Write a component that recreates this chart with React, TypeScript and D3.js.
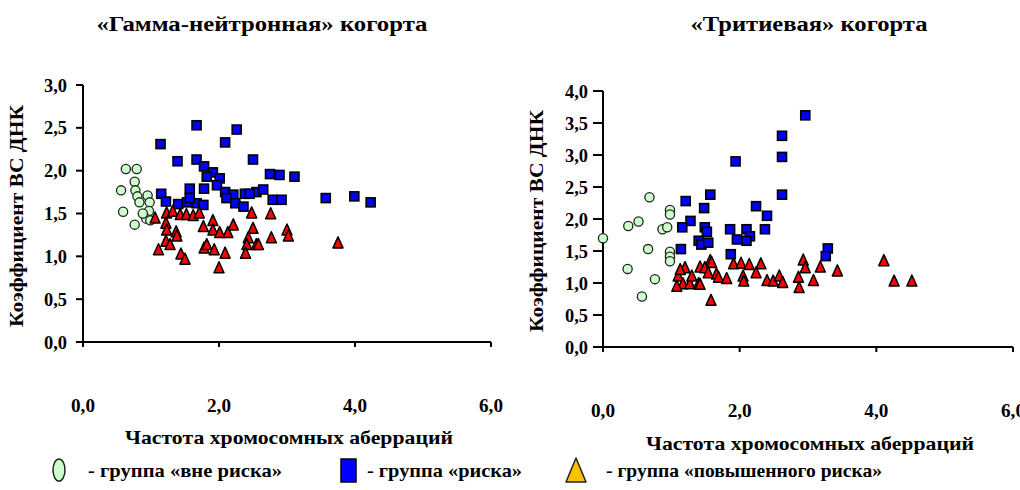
import React from "react";
import * as d3 from "d3";

// ---------- DATA ----------
const xTicks = [0, 2, 4, 6];
const leftYTicks = [0, 0.5, 1, 1.5, 2, 2.5, 3];
const rightYTicks = [0, 0.5, 1, 1.5, 2, 2.5, 3, 3.5, 4];

const leftTitle = "«Гамма-нейтронная» когорта";
const rightTitle = "«Тритиевая» когорта";
const xAxisTitle = "Частота хромосомных аберраций";
const yAxisTitle = "Коэффициент ВС ДНК";
const legendLabels = ["- группа «вне риска»", "- группа «риска»", "- группа «повышенного риска»"];

// Gamma-neutron cohort
const leftNoRisk: [number, number][] = [
  [0.63, 2.02], [0.79, 2.02], [0.56, 1.77], [0.76, 1.87], [0.77, 1.77], [0.80, 1.70],
  [0.95, 1.71], [0.83, 1.63], [0.98, 1.63], [0.97, 1.53], [0.59, 1.52], [0.93, 1.44],
  [0.99, 1.42], [0.76, 1.37], [0.88, 1.50],
];
const leftRisk: [number, number][] = [
  [1.14, 2.31], [1.39, 2.11], [1.67, 2.53], [1.67, 2.13], [2.09, 2.33], [2.26, 2.48],
  [2.50, 2.13], [1.78, 2.05], [1.91, 1.98], [1.82, 1.93], [2.01, 1.91], [1.97, 1.83],
  [1.78, 1.79], [1.57, 1.79], [1.15, 1.73], [2.09, 1.75], [2.21, 1.72], [2.38, 1.73],
  [2.55, 1.75], [1.22, 1.64], [1.40, 1.61], [1.53, 1.63], [1.67, 1.62], [1.77, 1.60],
  [1.57, 1.68], [2.11, 1.68], [2.24, 1.62], [2.36, 1.58], [2.75, 1.96], [2.89, 1.95],
  [3.11, 1.93], [2.65, 1.78], [2.45, 1.73], [2.79, 1.66], [2.92, 1.66], [3.57, 1.68],
  [3.99, 1.70], [4.23, 1.63],
];
const leftHighRisk: [number, number][] = [
  [1.06, 1.44], [1.23, 1.50], [1.32, 1.52], [1.43, 1.48], [1.52, 1.48], [1.62, 1.47],
  [1.71, 1.50], [1.22, 1.38], [1.23, 1.30], [1.37, 1.28], [1.38, 1.23], [1.91, 1.41],
  [1.77, 1.34], [1.91, 1.30], [2.01, 1.27], [2.13, 1.27], [2.21, 1.36], [2.48, 1.50],
  [2.50, 1.32], [2.43, 1.21], [2.41, 1.13], [2.55, 1.13], [2.39, 1.03], [1.22, 1.17],
  [1.28, 1.13], [1.11, 1.07], [1.44, 1.02], [1.50, 0.96], [1.78, 1.09], [1.82, 1.13],
  [1.93, 1.07], [2.09, 1.03], [2.00, 0.86], [2.76, 1.49], [3.00, 1.30], [3.02, 1.23],
  [2.77, 1.21], [2.58, 1.13], [3.75, 1.15],
];

// Tritium cohort
const rightNoRisk: [number, number][] = [
  [0.0, 1.70], [0.37, 1.89], [0.52, 1.96], [0.68, 2.34], [0.98, 2.14], [0.98, 2.07],
  [0.87, 1.84], [0.94, 1.87], [0.66, 1.53], [0.98, 1.49], [0.98, 1.41], [0.98, 1.34],
  [0.36, 1.22], [0.76, 1.06], [0.57, 0.79],
];
const rightRisk: [number, number][] = [
  [2.96, 3.62], [2.62, 3.30], [2.62, 2.97], [1.94, 2.90], [2.62, 2.38], [1.57, 2.38],
  [1.21, 2.28], [1.48, 2.17], [1.28, 1.97], [1.16, 1.87], [1.49, 1.87], [1.52, 1.80],
  [1.40, 1.66], [1.44, 1.60], [1.54, 1.63], [1.14, 1.53], [2.24, 2.20], [2.40, 2.05],
  [1.86, 1.84], [2.10, 1.84], [2.37, 1.84], [2.15, 1.73], [1.96, 1.68], [2.10, 1.66],
  [1.87, 1.45], [3.29, 1.54], [3.26, 1.42],
];
const rightHighRisk: [number, number][] = [
  [1.20, 1.23], [1.42, 1.24], [1.57, 1.34], [1.66, 1.13], [1.10, 1.10], [1.17, 0.98],
  [1.27, 0.98], [1.40, 0.98], [1.08, 0.94], [1.49, 1.23], [1.59, 1.31], [1.91, 1.29],
  [2.02, 1.30], [2.14, 1.28], [2.31, 1.29], [1.54, 1.15], [1.69, 1.08], [1.81, 1.06],
  [2.05, 1.10], [2.24, 1.15], [2.06, 1.02], [2.40, 1.03], [2.49, 1.02], [2.58, 1.10],
  [2.63, 1.00], [2.93, 1.35], [2.96, 1.23], [2.86, 1.08], [2.87, 0.92], [3.08, 1.03],
  [3.18, 1.24], [3.43, 1.18], [1.58, 0.72], [1.42, 0.97], [1.13, 1.20], [1.30, 1.10],
  [4.11, 1.34], [4.26, 1.02], [4.52, 1.02],
];

// ---------- STYLE ----------
const FONT = "'Liberation Serif', 'Times New Roman', serif";
const GREEN = "#ccffcc";
const BLUE = "#0000ff";
const RED = "#ff0000";
const ORANGE = "#ffc000";

const triPath = (w: number, h: number) => `M0,${-h * 0.6}L${w / 2},${h * 0.4}L${-w / 2},${h * 0.4}Z`;

type PanelProps = {
  x0: number; x1: number; y0: number; y1: number; yMax: number; yTicks: number[];
  tickLen: number; yLabelRight: number; xLabelY: number; title: string; titleX: number; titleLen: number;
  xTitleX: number; xTitleY: number; yTitleX: number; yTitleY: number;
  noRisk: [number, number][]; risk: [number, number][]; high: [number, number][];
};

function Panel(p: PanelProps) {
  const x = d3.scaleLinear().domain([0, 6]).range([p.x0, p.x1]);
  const y = d3.scaleLinear().domain([0, p.yMax]).range([p.y0, p.y1]);
  const fmt = (v: number) => d3.format(".1f")(v).replace(".", ",");
  return (
    <g>
      <text x={p.titleX} y={31} textAnchor="middle" fontFamily={FONT} fontWeight="bold" fontSize={20}
        textLength={p.titleLen} lengthAdjust="spacingAndGlyphs">{p.title}</text>
      {/* axes */}
      <line x1={x(0)} x2={x(0)} y1={y(p.yMax)} y2={y(0) + 3} stroke="#000" strokeWidth={2} />
      <line x1={x(0) - 2} x2={x(6)} y1={y(0)} y2={y(0)} stroke="#000" strokeWidth={2} />
      {p.yTicks.map((t) => (
        <g key={"y" + t}>
          <line x1={x(0) - p.tickLen} x2={x(0)} y1={y(t)} y2={y(t)} stroke="#000" strokeWidth={2} />
          <text x={p.yLabelRight} y={y(t) + 6.5} textAnchor="end" fontFamily={FONT} fontWeight="bold" fontSize={19}
            textLength={23} lengthAdjust="spacingAndGlyphs">{fmt(t)}</text>
        </g>
      ))}
      {xTicks.map((t) => (
        <g key={"x" + t}>
          <line x1={x(t)} x2={x(t)} y1={y(0)} y2={y(0) + 5} stroke="#000" strokeWidth={2} />
          <text x={x(t)} y={p.xLabelY} textAnchor="middle" fontFamily={FONT} fontWeight="bold" fontSize={19}
            textLength={24} lengthAdjust="spacingAndGlyphs">{fmt(t)}</text>
        </g>
      ))}
      <text x={p.xTitleX} y={p.xTitleY} textAnchor="middle" fontFamily={FONT} fontWeight="bold" fontSize={19}
        textLength={328} lengthAdjust="spacingAndGlyphs">{xAxisTitle}</text>
      <text transform={`translate(${p.yTitleX},${p.yTitleY}) rotate(-90)`} textAnchor="middle" fontFamily={FONT}
        fontWeight="bold" fontSize={19} textLength={222} lengthAdjust="spacingAndGlyphs">{yAxisTitle}</text>
      {/* points */}
      {p.noRisk.map((d, i) => (
        <circle key={"g" + i} cx={x(d[0])} cy={y(d[1])} r={4.6} fill={GREEN} stroke="#222" strokeWidth={1.3} />
      ))}
      {p.risk.map((d, i) => (
        <rect key={"b" + i} x={x(d[0]) - 4.5} y={y(d[1]) - 4.5} width={9} height={9} fill={BLUE} stroke="#000" strokeWidth={1.6} />
      ))}
      {p.high.map((d, i) => (
        <path key={"r" + i} d={triPath(10, 11)} transform={`translate(${x(d[0])},${y(d[1])})`} fill={RED} stroke="#000" strokeWidth={1.5} strokeLinejoin="round" />
      ))}
    </g>
  );
}

export default function App() {
  return (
    <svg width={1020} height={490} style={{ position: "absolute", left: 0, top: 0, background: "#fff" }}>
      <rect width={1020} height={490} fill="#fff" />
      <Panel x0={83} x1={491} y0={342} y1={85} yMax={3} yTicks={leftYTicks} tickLen={7} yLabelRight={67}
        xLabelY={412} title={leftTitle} titleX={262} titleLen={331} xTitleX={289} xTitleY={444}
        yTitleX={23} yTitleY={216} noRisk={leftNoRisk} risk={leftRisk} high={leftHighRisk} />
      <Panel x0={603} x1={1013} y0={347} y1={91} yMax={4} yTicks={rightYTicks} tickLen={10} yLabelRight={588}
        xLabelY={417} title={rightTitle} titleX={809} titleLen={237} xTitleX={810} xTitleY={450}
        yTitleX={543} yTitleY={221} noRisk={rightNoRisk} risk={rightRisk} high={rightHighRisk} />
      {/* legend */}
      <g>
        <ellipse cx={59} cy={470} rx={6} ry={11} fill={GREEN} stroke="#222" strokeWidth={1.5} />
        <text x={88} y={477} fontFamily={FONT} fontWeight="bold" fontSize={19} textLength={194} lengthAdjust="spacingAndGlyphs">{legendLabels[0]}</text>
        <rect x={341} y={459} width={15} height={23} fill={BLUE} stroke="#000" strokeWidth={1.5} />
        <text x={367} y={477} fontFamily={FONT} fontWeight="bold" fontSize={19} textLength={155} lengthAdjust="spacingAndGlyphs">{legendLabels[1]}</text>
        <path d="M576,458L586,482L566,482Z" fill={ORANGE} stroke="#222" strokeWidth={1.5} strokeLinejoin="round" />
        <text x={606} y={477} fontFamily={FONT} fontWeight="bold" fontSize={19} textLength={276} lengthAdjust="spacingAndGlyphs">{legendLabels[2]}</text>
      </g>
    </svg>
  );
}
